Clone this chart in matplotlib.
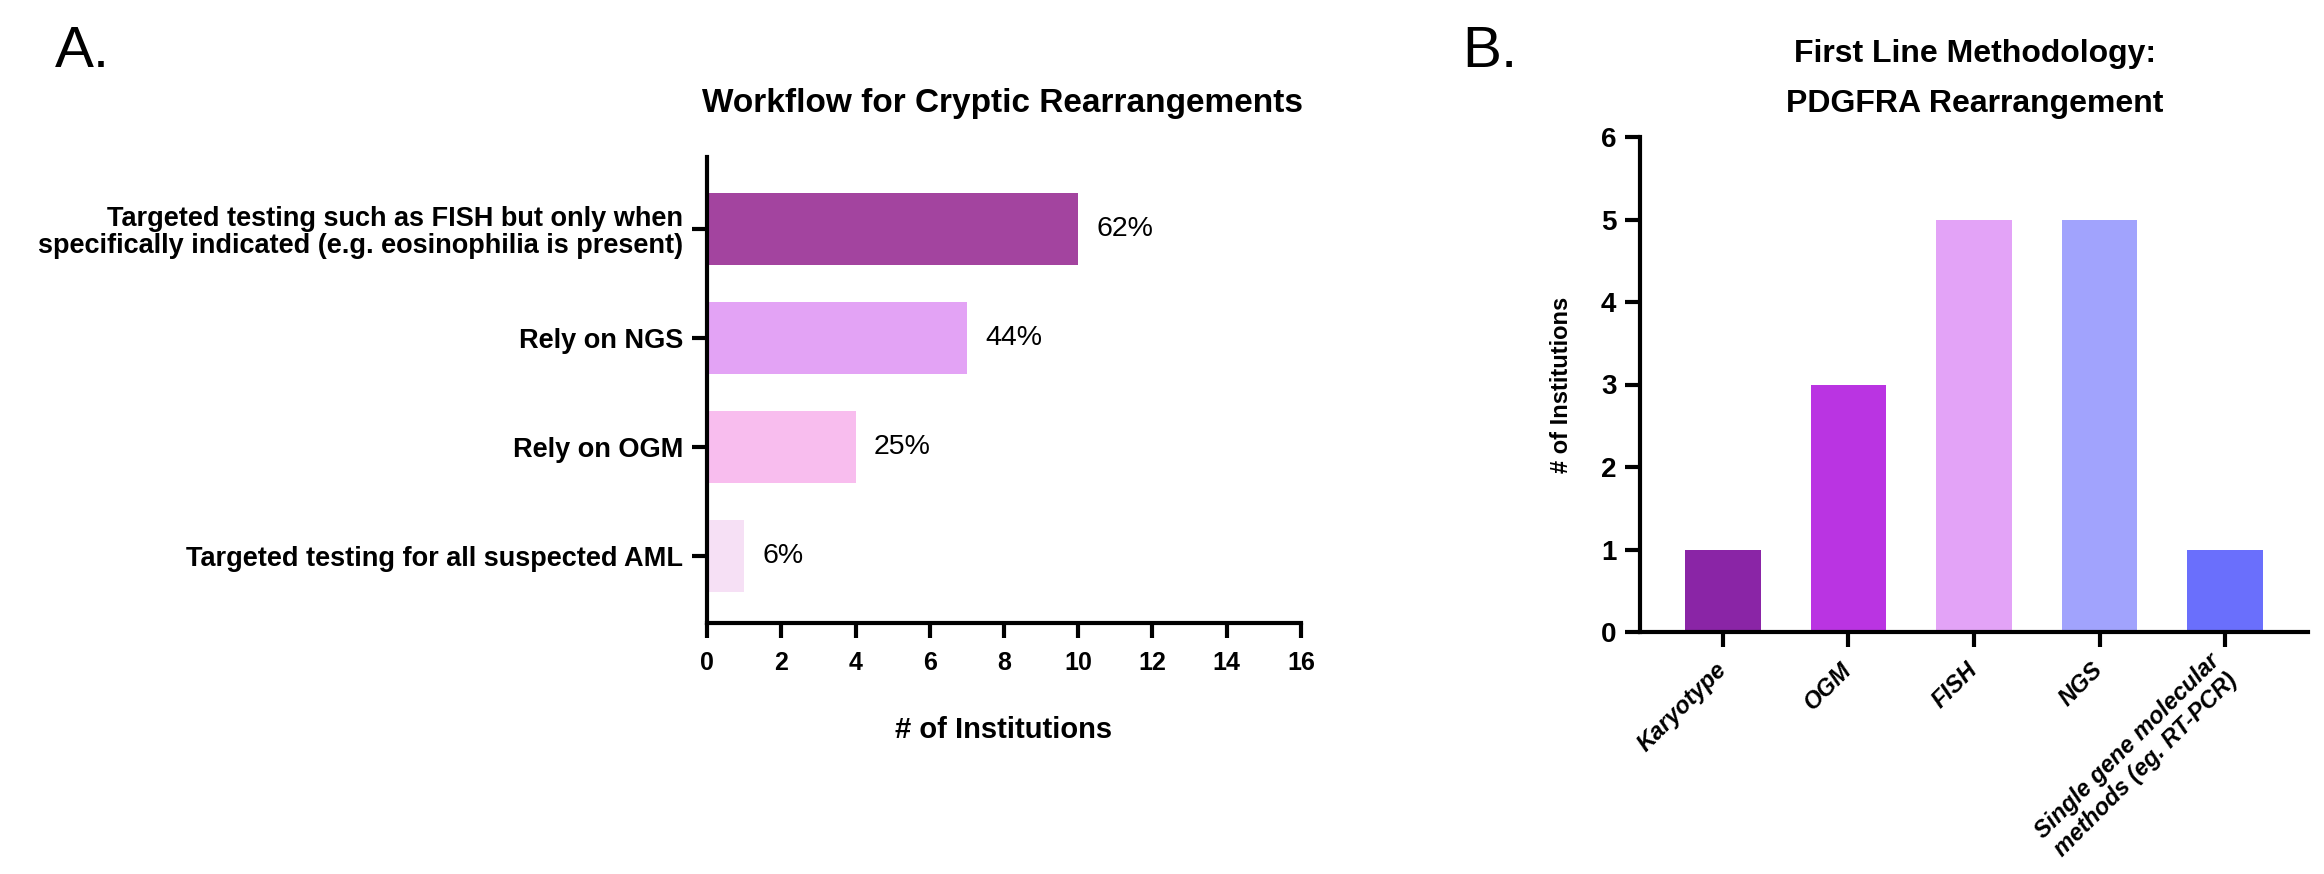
import matplotlib
matplotlib.use("Agg")
import matplotlib.pyplot as plt

plt.rcParams['font.family'] = ['Liberation Sans', 'DejaVu Sans']

# panel A data
workflow_labels = [
    "Targeted testing such as FISH but only when\nspecifically indicated (e.g. eosinophilia is present)",
    "Rely on NGS",
    "Rely on OGM",
    "Targeted testing for all suspected AML",
]
workflow_counts = [10, 7, 4, 1]
workflow_pcts = ["62%", "44%", "25%", "6%"]
workflow_colors = ["#A3449F", "#E3A3F5", "#F8BDEE", "#F6E0F5"]

# panel B data
method_labels = ["Karyotype", "OGM", "FISH", "NGS",
                 "Single gene molecular\nmethods (eg. RT-PCR)"]
method_counts = [1, 3, 5, 5, 1]
method_colors = ["#8A25A6", "#BA34E2", "#E3A3F7", "#A1A3FD", "#6A6FFC"]

W, H = 2324, 874
fig = plt.figure(figsize=(W / 100, H / 100), dpi=100)


def frac(x0, y0, x1, y1):
    # pixel box -> figure fraction rect
    return [x0 / W, 1 - y1 / H, (x1 - x0) / W, (y1 - y0) / H]


def style_axes(ax):
    for side in ("top", "right"):
        ax.spines[side].set_visible(False)
    for side in ("left", "bottom"):
        ax.spines[side].set_linewidth(3)
    ax.tick_params(width=3, length=11, color="black")


# ---- A ----
axA = fig.add_axes(frac(707, 157, 1301, 623))
bars = axA.barh(range(len(workflow_counts)), workflow_counts, height=0.66,
                color=workflow_colors)
axA.bar_label(bars, labels=workflow_pcts, padding=13, fontsize=20.5)
axA.set_xlim(0, 16)
axA.set_ylim(3.615, -0.66)
axA.set_xticks(range(0, 17, 2))
axA.set_yticks(range(len(workflow_labels)))
axA.set_yticklabels(workflow_labels, fontsize=19.5, fontweight="bold",
                    linespacing=1.05)
for lbl in axA.get_xticklabels():
    lbl.set_fontsize(18)
    lbl.set_fontweight("bold")
style_axes(axA)
axA.tick_params(axis="y", pad=6)
axA.tick_params(axis="x", pad=9)
axA.set_xlabel("# of Institutions", fontsize=21, fontweight="bold")
axA.xaxis.set_label_coords(0.5, -0.2)

fig.text(1003 / W, 1 - 112 / H, "Workflow for Cryptic Rearrangements",
         ha="center", va="baseline", fontsize=24, fontweight="bold")
fig.text(55 / W, 1 - 67 / H, "A.", ha="left", va="baseline", fontsize=42)

# ---- B ----
axB = fig.add_axes(frac(1640, 137, 2308, 632))
x = range(len(method_counts))
axB.bar(x, method_counts, width=0.6, color=method_colors)
axB.set_xlim(-0.66, 4.66)
axB.set_ylim(0, 6)
axB.set_yticks(range(0, 7))
axB.set_xticks(list(x))
axB.set_xticklabels(method_labels, rotation=45, ha="right", va="center",
                    rotation_mode="anchor", fontsize=17, fontweight="bold",
                    fontstyle="italic", multialignment="center")
for lbl in axB.get_yticklabels():
    lbl.set_fontsize(20)
    lbl.set_fontweight("bold")
style_axes(axB)
axB.tick_params(axis="y", pad=6)
axB.tick_params(axis="x", pad=14)
axB.set_ylabel("# of Institutions", fontsize=17, fontweight="bold")
axB.yaxis.set_label_coords(-0.1, 0.5)

fig.text(1975 / W, 1 - 62 / H, "First Line Methodology:",
         ha="center", va="baseline", fontsize=23, fontweight="bold")
fig.text(1975 / W, 1 - 112 / H, "PDGFRA Rearrangement",
         ha="center", va="baseline", fontsize=23, fontweight="bold")
fig.text(1462 / W, 1 - 67 / H, "B.", ha="left", va="baseline", fontsize=42)

fig.savefig("out.png", dpi=100, facecolor="white")
